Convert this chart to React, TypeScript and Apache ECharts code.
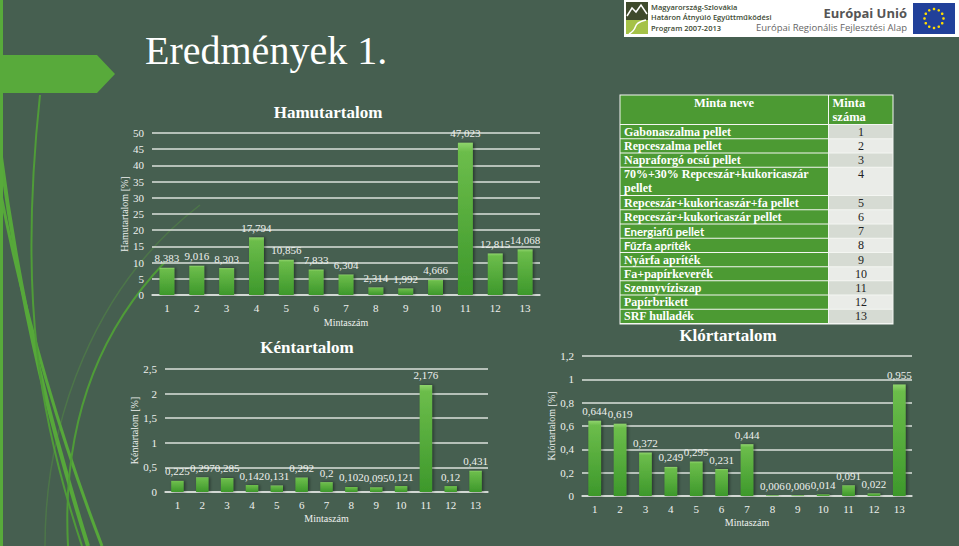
import React, { useEffect, useRef } from 'react';
import * as echarts from 'echarts';

const sampleNumbers = ['1', '2', '3', '4', '5', '6', '7', '8', '9', '10', '11', '12', '13'];
const ashValues = [8.383, 9.016, 8.303, 17.794, 10.856, 7.833, 6.304, 2.314, 1.992, 4.666, 47.023, 12.815, 14.068];
const sulfurValues = [0.225, 0.297, 0.285, 0.142, 0.131, 0.292, 0.2, 0.102, 0.095, 0.121, 2.176, 0.12, 0.431];
const chlorineValues = [0.644, 0.619, 0.372, 0.249, 0.295, 0.231, 0.444, 0.006, 0.006, 0.014, 0.091, 0.022, 0.955];
const sampleNames = [
  'Gabonaszalma pellet',
  'Repceszalma pellet',
  'Napraforgó ocsú pellet',
  '70%+30% Repceszár+kukoricaszár pellet',
  'Repceszár+kukoricaszár+fa pellet',
  'Repceszár+kukoricaszár pellet',
  'Energiafű pellet',
  'Fűzfa apríték',
  'Nyárfa apríték',
  'Fa+papírkeverék',
  'Szennyvíziszap',
  'Papírbrikett',
  'SRF hulladék',
];
const chartTitles = ['Hamutartalom', 'Kéntartalom', 'Klórtartalom'];
const yAxisNames = ['Hamutartalom [%]', 'Kéntartalom [%]', 'Klórtartalom [%]'];
const xAxisName = 'Mintaszám';

const SERIF = '"Liberation Serif", "DejaVu Serif", serif';
const SANS = '"Open Sans", "Noto Sans", sans-serif';
const BG = '#465f50';
const GREEN = '#58aa3b';
const LINE = '#dbe0db';
const TEXT = '#eef0ee';

const fmt = (v: number) => String(v).replace('.', ',');

function barSeries(data: number[], idx: number) {
  return {
    type: 'bar',
    xAxisIndex: idx,
    yAxisIndex: idx,
    data,
    barWidth: '50%',
    itemStyle: {
      color: new echarts.graphic.LinearGradient(0, 0, 0, 1, [
        { offset: 0, color: '#8fd46c' },
        { offset: 0.06, color: '#6cbd4b' },
        { offset: 1, color: '#3d982b' },
      ]),
      shadowColor: 'rgba(0,0,0,0.45)',
      shadowBlur: 3,
      shadowOffsetX: 1.5,
    },
    label: {
      show: true,
      position: 'top',
      distance: 4,
      color: TEXT,
      fontFamily: SERIF,
      fontSize: 11,
      formatter: (p: any) => fmt(p.value),
    },
  };
}

function xAxis(idx: number, nameGap: number) {
  return {
    type: 'category',
    gridIndex: idx,
    data: sampleNumbers,
    axisTick: { show: false },
    axisLine: { lineStyle: { color: LINE, width: 1.5 } },
    axisLabel: { color: TEXT, fontFamily: SERIF, fontSize: 11, margin: 7 },
    name: xAxisName,
    nameLocation: 'middle',
    nameGap,
    nameTextStyle: { color: TEXT, fontFamily: SERIF, fontSize: 10 },
  };
}

function yAxis(idx: number, max: number, interval: number, nameGap: number) {
  return {
    type: 'value',
    gridIndex: idx,
    min: 0,
    max,
    interval,
    axisLine: { show: false },
    axisTick: { show: false },
    splitLine: { lineStyle: { color: LINE, width: 1.5 } },
    axisLabel: {
      color: TEXT,
      fontFamily: SERIF,
      fontSize: 11,
      margin: 8,
      formatter: (v: number) => fmt(Number(v.toFixed(3))),
    },
    name: yAxisNames[idx],
    nameLocation: 'middle',
    nameGap,
    nameTextStyle: { color: TEXT, fontFamily: SERIF, fontSize: 10 },
  };
}

function txt(text: string, x: number, y: number, opts: any = {}) {
  const align = opts.align || 'left';
  const vAlign = opts.verticalAlign || 'middle';
  return {
    type: 'text',
    z: opts.z ?? 10,
    style: {
      text,
      x,
      y,
      fill: opts.fill || '#fff',
      font: opts.font,
      align,
      verticalAlign: vAlign,
      textAlign: align,
      textVerticalAlign: vAlign,
      width: opts.width,
      overflow: opts.overflow,
      lineHeight: opts.lineHeight,
    },
  };
}

function buildTable() {
  const els: any[] = [];
  const x0 = 619.5;
  const xSplit = 828.5;
  const x1 = 893.5;
  const yTop = 94.5;
  const yHead = 124.5;
  const yEnd = 323.5;
  const unit = (yEnd - yHead) / 14;
  els.push({ type: 'rect', z: 5, shape: { x: x0, y: yTop, width: x1 - x0, height: yEnd - yTop + 1 }, style: { fill: '#f4f6f2' } });
  els.push({ type: 'rect', z: 6, shape: { x: x0 + 1, y: yTop + 1, width: xSplit - x0 - 1.5, height: yHead - yTop - 1.5 }, style: { fill: '#4c9a33' } });
  els.push({ type: 'rect', z: 6, shape: { x: xSplit + 0.5, y: yTop + 1, width: x1 - xSplit - 1.5, height: yHead - yTop - 1.5 }, style: { fill: '#4c9a33' } });
  els.push(txt('Minta neve', (x0 + xSplit) / 2, 103, { align: 'center', font: `bold 12.5px ${SERIF}` }));
  els.push(txt('Minta\nszáma', xSplit + 4, 110, { font: `bold 12.5px ${SERIF}`, lineHeight: 14 }));
  let y = yHead;
  sampleNames.forEach((name, i) => {
    const h = i === 3 ? unit * 2 : unit;
    els.push({ type: 'rect', z: 6, shape: { x: x0 + 1, y: y + 0.5, width: xSplit - x0 - 1.5, height: h - 1 }, style: { fill: '#4c9a33' } });
    els.push({ type: 'rect', z: 6, shape: { x: xSplit + 0.5, y: y + 0.5, width: x1 - xSplit - 1.5, height: h - 1 }, style: { fill: i % 2 === 0 ? '#d6dbd3' : '#eaece8' } });
    const sans = i === 6 || i === 7;
    els.push(
      txt(name, 624, y + h / 2, {
        font: sans ? `bold 11.5px Lato, ${SANS}` : `bold 12px ${SERIF}`,
        width: 202,
        overflow: 'break',
        lineHeight: unit,
      })
    );
    els.push(txt(sampleNumbers[i], (xSplit + x1) / 2, y + unit / 2, { align: 'center', fill: '#222', font: `12px ${SERIF}` }));
    y += h;
  });
  return els;
}

function buildLogos() {
  const els: any[] = [];
  els.push({ type: 'rect', z: 5, shape: { x: 624, y: 0, width: 335, height: 37 }, style: { fill: '#ffffff' } });
  els.push({ type: 'rect', z: 6, shape: { x: 626, y: 2, width: 22, height: 18 }, style: { fill: '#3f4a2c' } });
  els.push({ type: 'rect', z: 6, shape: { x: 626, y: 20, width: 22, height: 14 }, style: { fill: '#a5c247' } });
  els.push({ type: 'polyline', z: 7, shape: { points: [[627, 16], [632, 8], [636, 12], [641, 5], [647, 14]] }, style: { stroke: '#ffffff', lineWidth: 1.5, fill: null } });
  els.push({ type: 'bezierCurve', z: 7, shape: { x1: 629, y1: 34, cpx1: 640, cpy1: 28, cpx2: 630, cpy2: 24, x2: 646, y2: 20 }, style: { stroke: '#ffffff', lineWidth: 1.5, fill: null } });
  const small = `600 7.5px ${SANS}`;
  els.push(txt('Magyarország-Szlovákia', 651, 6.5, { fill: '#3d4a33', font: small }));
  els.push(txt('Határon Átnyúló Együttműködési', 651, 17, { fill: '#3d4a33', font: small }));
  els.push(txt('Program 2007-2013', 651, 27.5, { fill: '#3d4a33', font: small }));
  els.push(txt('Európai Unió', 907, 13, { align: 'right', fill: '#555', font: `bold 13px ${SANS}` }));
  els.push(txt('Európai Regionális Fejlesztési Alap', 907, 27.5, { align: 'right', fill: '#666', font: `9.5px ${SANS}` }));
  els.push({ type: 'rect', z: 6, shape: { x: 913, y: 3, width: 42, height: 31 }, style: { fill: '#21409a' } });
  for (let k = 0; k < 12; k++) {
    const a = (k / 12) * Math.PI * 2;
    els.push({ type: 'circle', z: 7, shape: { cx: 934 + 9.5 * Math.cos(a), cy: 18.5 + 9.5 * Math.sin(a), r: 1.3 }, style: { fill: '#ffdd00' } });
  }
  return els;
}

function buildDecor() {
  const curve = (x1: number, y1: number, cpx1: number, cpy1: number, cpx2: number, cpy2: number, x2: number, y2: number, lw: number, stroke: string) => ({
    type: 'bezierCurve',
    z: 0,
    silent: true,
    shape: { x1, y1, cpx1, cpy1, cpx2, cpy2, x2, y2 },
    style: { stroke, lineWidth: lw, fill: null },
  });
  return [
    { type: 'rect', z: 1, shape: { x: 0, y: 0, width: 3, height: 546 }, style: { fill: GREEN } },
    { type: 'polygon', z: 1, shape: { points: [[0, 55], [97, 55], [115, 74], [97, 93], [0, 93]] }, style: { fill: GREEN } },
    curve(0, 150, 22, 320, 55, 440, 88, 546, 4, '#56a83a'),
    curve(0, 190, 25, 320, 65, 450, 102, 546, 3, '#56a83a'),
    curve(40, 95, 18, 300, 40, 420, 82, 546, 2, '#4f9c38'),
    curve(165, 262, 95, 335, 62, 430, 68, 546, 2, '#4f9c38'),
    curve(200, 205, 95, 285, 45, 420, 45, 546, 1.5, 'rgba(90,160,60,0.35)'),
  ];
}

export default function App() {
  const ref = useRef<HTMLDivElement>(null);
  useEffect(() => {
    document.body.style.margin = '0';
    const chart = echarts.init(ref.current!, null, { renderer: 'svg' });
    const titleStyle = { color: '#ffffff', fontFamily: SERIF, fontSize: 17, fontWeight: 'bold' as const };
    chart.setOption({
      animation: false,
      backgroundColor: BG,
      title: [
        { text: chartTitles[0], left: 328, top: 104, textAlign: 'center', padding: 0, textStyle: titleStyle },
        { text: chartTitles[1], left: 307, top: 338.5, textAlign: 'center', padding: 0, textStyle: titleStyle },
        { text: chartTitles[2], left: 728, top: 326.5, textAlign: 'center', padding: 0, textStyle: titleStyle },
      ],
      grid: [
        { left: 152, right: 419, top: 133, bottom: 251 },
        { left: 165, right: 471, top: 369, bottom: 54 },
        { left: 582, right: 47, top: 356, bottom: 50 },
      ],
      xAxis: [xAxis(0, 22), xAxis(1, 21), xAxis(2, 21)],
      yAxis: [yAxis(0, 50, 5, 22), yAxis(1, 2.5, 0.5, 24), yAxis(2, 1.2, 0.2, 25)],
      series: [barSeries(ashValues, 0), barSeries(sulfurValues, 1), barSeries(chlorineValues, 2)],
      graphic: {
        elements: [
          ...buildDecor(),
          txt('Eredmények 1.', 145, 50, { font: `40px ${SERIF}` }),
          ...buildTable(),
          ...buildLogos(),
        ],
      },
    });
    return () => chart.dispose();
  }, []);
  return <div ref={ref} style={{ position: 'absolute', left: 0, top: 0, width: 959, height: 546 }} />;
}
